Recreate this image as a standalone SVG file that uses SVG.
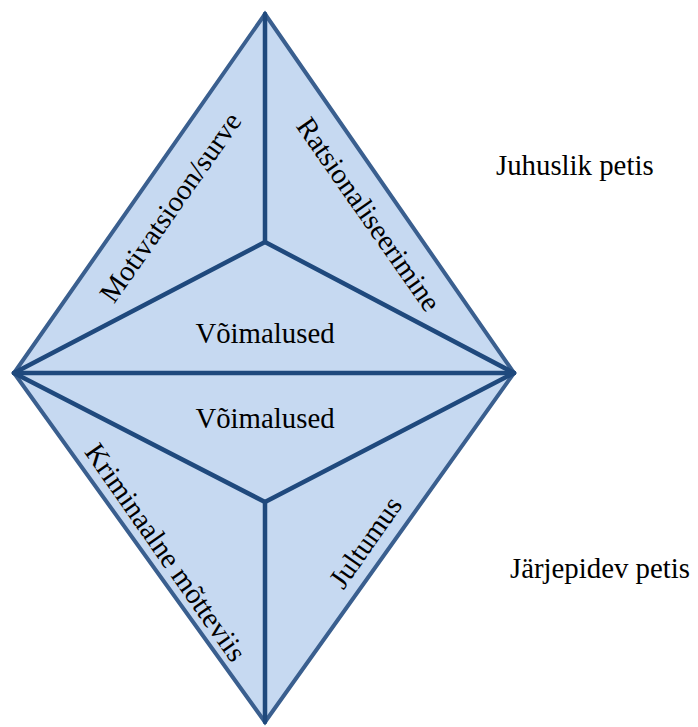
<svg xmlns="http://www.w3.org/2000/svg" width="698" height="727" viewBox="0 0 698 727">
<style>
.face{fill:#C6D9F1;stroke:none}
.outer{fill:none;stroke:#3A5F8F;stroke-width:4;stroke-linejoin:miter}
.inner{fill:none;stroke:#1F497D;stroke-width:4.5;stroke-linecap:round;stroke-linejoin:miter}
text{font-family:"Liberation Serif","Times New Roman",serif;font-size:28.8px;fill:#000}
.c{text-anchor:middle}
</style>
<rect width="698" height="727" fill="#fff"/>
<g id="upper-pyramid">
<polygon class="face" points="265,14 14,373 514,373"/>
</g>
<g id="lower-pyramid">
<polygon class="face" points="14,373 514,373 265,722"/>
</g>
<g id="connectors">
<polygon class="outer" points="265,14 514,373 265,722 14,373"/>
<line class="inner" x1="265" y1="14" x2="265" y2="242"/>
<line class="inner" x1="14" y1="373" x2="265" y2="242"/>
<line class="inner" x1="514" y1="373" x2="265" y2="242"/>
<line class="inner" x1="14" y1="373" x2="514" y2="373"/>
<line class="inner" x1="14" y1="373" x2="265" y2="502"/>
<line class="inner" x1="514" y1="373" x2="265" y2="502"/>
<line class="inner" x1="265" y1="502" x2="265" y2="722"/>
</g>
<g id="label-motivatsioon"><text class="c" transform="translate(170,207) rotate(-55)" dy="0.35em">Motivatsioon/surve</text></g>
<g id="label-ratsionaliseerimine"><text class="c" transform="translate(369,214) rotate(55)" dy="0.35em">Ratsionaliseerimine</text></g>
<g id="label-voimalused-1"><text class="c" x="265" y="343">Võimalused</text></g>
<g id="label-voimalused-2"><text class="c" x="265" y="428">Võimalused</text></g>
<g id="label-kriminaalne"><text class="c" transform="translate(166,552) rotate(55)" dy="0.35em">Kriminaalne mõtteviis</text></g>
<g id="label-jultumus"><text class="c" transform="translate(365,542) rotate(-55)" dy="0.35em">Jultumus</text></g>
<g id="label-juhuslik"><text x="496" y="175">Juhuslik petis</text></g>
<g id="label-jarjepidev"><text x="510" y="578">Järjepidev petis</text></g>
</svg>
